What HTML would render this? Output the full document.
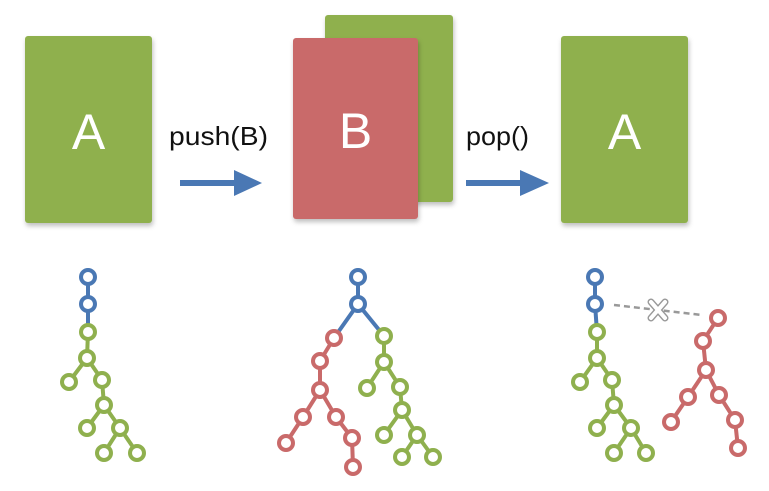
<!DOCTYPE html>
<html><head><meta charset="utf-8"><style>
html,body{margin:0;padding:0;background:#fff;}
svg{display:block;}
</style></head><body>
<svg width="769" height="491" viewBox="0 0 769 491" xmlns="http://www.w3.org/2000/svg" font-family="Liberation Sans, Arial, sans-serif">
<defs>
<filter id="sh" x="-10%" y="-10%" width="130%" height="130%"><feDropShadow dx="1" dy="3" stdDeviation="2.5" flood-opacity="0.25"/></filter>
</defs>
<rect x="25" y="36" width="127" height="187" rx="3" fill="#8fb04e" filter="url(#sh)"/>
<text x="88.5" y="149" font-size="50" fill="#fff" text-anchor="middle">A</text>
<rect x="325" y="15" width="128" height="187" rx="3" fill="#8fb04e" filter="url(#sh)"/>
<rect x="293" y="38" width="125" height="181" rx="3" fill="#c96a6a" filter="url(#sh)"/>
<text x="355.5" y="148" font-size="50" fill="#fff" text-anchor="middle">B</text>
<rect x="561" y="36" width="127" height="187" rx="3" fill="#8fb04e" filter="url(#sh)"/>
<text x="624.5" y="149" font-size="50" fill="#fff" text-anchor="middle">A</text>
<text x="169" y="145" font-size="26" fill="#111" textLength="99" lengthAdjust="spacingAndGlyphs">push(B)</text>
<text x="466" y="145" font-size="26" fill="#111" textLength="63" lengthAdjust="spacingAndGlyphs">pop()</text>
<g fill="#4a78b4" stroke="none">
<rect x="180" y="180" width="56" height="6"/>
<polygon points="234,170 262,183 234,196"/>
<rect x="466" y="180" width="56" height="6"/>
<polygon points="520,170 549,183 520,196"/>
</g>
<g stroke-width="4" fill="#fff">
<g stroke="#4a78b4"><line x1="88" y1="277" x2="88" y2="332"/></g>
<g stroke="#8fb04e">
<polyline fill="none" points="88,332 87,358 69,382"/>
<polyline fill="none" points="87,358 102,380 104,405 87,428"/>
<polyline fill="none" points="104,405 120,428 104,453"/>
<line x1="120" y1="428" x2="137" y2="453"/>
<circle cx="88" cy="332" r="7"/><circle cx="87" cy="358" r="7"/><circle cx="69" cy="382" r="7"/>
<circle cx="102" cy="380" r="7"/><circle cx="104" cy="405" r="7"/><circle cx="87" cy="428" r="7"/>
<circle cx="120" cy="428" r="7"/><circle cx="104" cy="453" r="7"/><circle cx="137" cy="453" r="7"/>
</g>
<g stroke="#4a78b4"><circle cx="88" cy="277" r="7"/><circle cx="88" cy="304" r="7"/></g>
<g stroke="#4a78b4" fill="none"><polyline points="358,277 358,304 334,338"/><line x1="358" y1="304" x2="384" y2="336"/></g>
<g stroke="#c96a6a">
<polyline fill="none" points="334,338 320,361 320,390 303,417 286,443"/>
<polyline fill="none" points="320,390 336,417 352,438 353,467"/>
<circle cx="334" cy="338" r="7"/><circle cx="320" cy="361" r="7"/><circle cx="320" cy="390" r="7"/>
<circle cx="303" cy="417" r="7"/><circle cx="336" cy="417" r="7"/><circle cx="286" cy="443" r="7"/>
<circle cx="352" cy="438" r="7"/><circle cx="353" cy="467" r="7"/>
</g>
<g stroke="#8fb04e">
<polyline fill="none" points="384,336 384,362 367,388"/>
<polyline fill="none" points="384,362 400,387 402,410 384,435"/>
<polyline fill="none" points="402,410 417,435 402,457"/>
<line x1="417" y1="435" x2="433" y2="457"/>
<circle cx="384" cy="336" r="7"/><circle cx="384" cy="362" r="7"/><circle cx="367" cy="388" r="7"/>
<circle cx="400" cy="387" r="7"/><circle cx="402" cy="410" r="7"/><circle cx="384" cy="435" r="7"/>
<circle cx="417" cy="435" r="7"/><circle cx="402" cy="457" r="7"/><circle cx="433" cy="457" r="7"/>
</g>
<g stroke="#4a78b4"><circle cx="358" cy="277" r="7"/><circle cx="358" cy="304" r="7"/></g>
<line x1="614" y1="305" x2="702" y2="315" stroke="#999" stroke-width="2.5" stroke-dasharray="6,4"/>
<g stroke="#4a78b4" fill="none"><polyline points="595,277 595,304 597,332"/></g>
<g stroke="#8fb04e">
<polyline fill="none" points="597,332 597,358 580,382"/>
<polyline fill="none" points="597,358 612,380 614,405 597,428"/>
<polyline fill="none" points="614,405 631,428 614,453"/>
<line x1="631" y1="428" x2="646" y2="453"/>
<circle cx="597" cy="332" r="7"/><circle cx="597" cy="358" r="7"/><circle cx="580" cy="382" r="7"/>
<circle cx="612" cy="380" r="7"/><circle cx="614" cy="405" r="7"/><circle cx="597" cy="428" r="7"/>
<circle cx="631" cy="428" r="7"/><circle cx="614" cy="453" r="7"/><circle cx="646" cy="453" r="7"/>
</g>
<g stroke="#c96a6a">
<polyline fill="none" points="718,318 703,341 706,370 688,397 671,422"/>
<polyline fill="none" points="706,370 719,395 735,420 738,448"/>
<circle cx="718" cy="318" r="7"/><circle cx="703" cy="341" r="7"/><circle cx="706" cy="370" r="7"/>
<circle cx="688" cy="397" r="7"/><circle cx="719" cy="395" r="7"/><circle cx="671" cy="422" r="7"/>
<circle cx="735" cy="420" r="7"/><circle cx="738" cy="448" r="7"/>
</g>
<g stroke="#4a78b4"><circle cx="595" cy="277" r="7"/><circle cx="595" cy="304" r="7"/></g>
</g>
<g stroke-linecap="round">
<line x1="651" y1="302" x2="665" y2="318" stroke="#999" stroke-width="7"/>
<line x1="665" y1="302" x2="651" y2="318" stroke="#999" stroke-width="7"/>
<line x1="651" y1="302" x2="665" y2="318" stroke="#fff" stroke-width="4"/>
<line x1="665" y1="302" x2="651" y2="318" stroke="#fff" stroke-width="4"/>
</g>
</svg>
</body></html>
